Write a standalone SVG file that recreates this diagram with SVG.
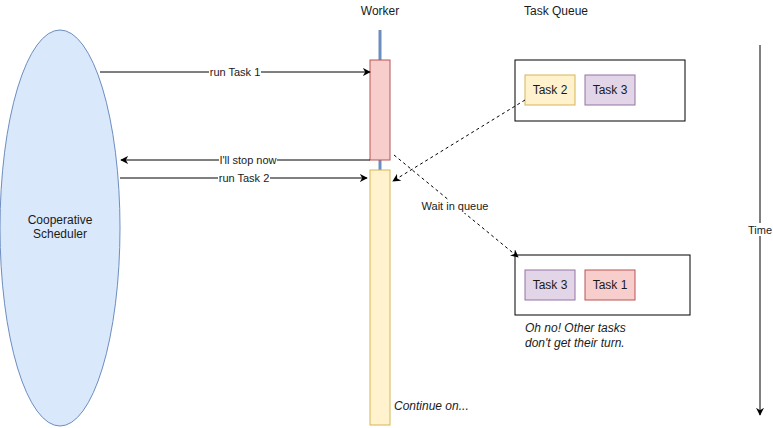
<svg xmlns="http://www.w3.org/2000/svg" width="773" height="428" viewBox="0 0 773 428">
<style>
text{font-family:"Liberation Sans",Arial,sans-serif;font-size:12px;fill:#1a1a1a}
text.e{font-size:11px}
.c{text-anchor:middle}
.i{font-style:italic}
.edge{stroke:#000;stroke-width:1;fill:none}
.dash{stroke:#000;stroke-width:1;fill:none;stroke-dasharray:3 3}
.lbl{fill:#fff}
.y{fill:#fff2cc;stroke:#d6b656}
.r{fill:#f8cecc;stroke:#b85450}
.p{fill:#e1d5e7;stroke:#9673a6}
.q{fill:#fff;stroke:#000}
</style>
<defs>
<marker id="ah" viewBox="0 0 10 10" refX="9" refY="5" markerWidth="8" markerHeight="8" orient="auto" markerUnits="userSpaceOnUse">
<path d="M0,0 L10,5 L0,10 L3,5 z" fill="#000"/>
</marker>
</defs>
<rect width="773" height="428" fill="#fff"/>
<g id="scheduler">
<ellipse cx="60" cy="228" rx="60" ry="198" fill="#dae8fc" stroke="#6c8ebf"/>
<text class="c" x="60" y="224">Cooperative</text>
<text class="c" x="60" y="238">Scheduler</text>
</g>
<g id="worker">
<text class="c" x="380" y="15">Worker</text>
<line x1="380" y1="30" x2="380" y2="175" stroke="#6c8ebf" stroke-width="3"/>
<rect class="r" x="370" y="60" width="20" height="100"/>
<rect class="y" x="370" y="170" width="20" height="255"/>
<text class="i" x="394" y="410">Continue on...</text>
</g>
<g id="queue1">
<text x="524" y="15">Task Queue</text>
<rect class="q" x="515" y="60" width="170" height="61"/>
<rect class="y" x="525" y="75" width="50" height="30"/>
<text class="c" x="550" y="94">Task 2</text>
<rect class="p" x="585" y="75" width="50" height="30"/>
<text class="c" x="610" y="94">Task 3</text>
</g>
<g id="queue2">
<rect class="q" x="515" y="255" width="175" height="60"/>
<rect class="p" x="525" y="270" width="50" height="30"/>
<text class="c" x="550" y="289">Task 3</text>
<rect class="r" x="585" y="270" width="50" height="30"/>
<text class="c" x="610" y="289">Task 1</text>
<text class="i" x="525" y="332">Oh no! Other tasks</text>
<text class="i" x="525" y="347">don't get their turn.</text>
</g>
<g id="time">
<line class="edge" x1="760" y1="45" x2="760" y2="415" marker-end="url(#ah)"/>
<rect class="lbl" x="747" y="223" width="26" height="13"/>
<text class="c e" x="760" y="234">Time</text>
</g>
<g id="connectors">
<line class="edge" x1="100" y1="72" x2="370" y2="72" marker-end="url(#ah)"/>
<rect class="lbl" x="209" y="66" width="52" height="13"/>
<text class="c e" x="235" y="76">run Task 1</text>
<line class="edge" x1="370" y1="160" x2="121" y2="160" marker-end="url(#ah)"/>
<rect class="lbl" x="219" y="154" width="58" height="13"/>
<text class="c e" x="248" y="164">I'll stop now</text>
<line class="edge" x1="120" y1="178" x2="367" y2="178" marker-end="url(#ah)"/>
<rect class="lbl" x="218" y="172" width="52" height="13"/>
<text class="c e" x="244" y="182">run Task 2</text>
<line class="dash" x1="525" y1="100" x2="393" y2="181" marker-end="url(#ah)"/>
<line class="dash" x1="394" y1="155" x2="518" y2="257" marker-end="url(#ah)"/>
<rect class="lbl" x="421" y="200" width="68" height="13"/>
<text class="c e" x="455" y="210">Wait in queue</text>
</g>
</svg>
